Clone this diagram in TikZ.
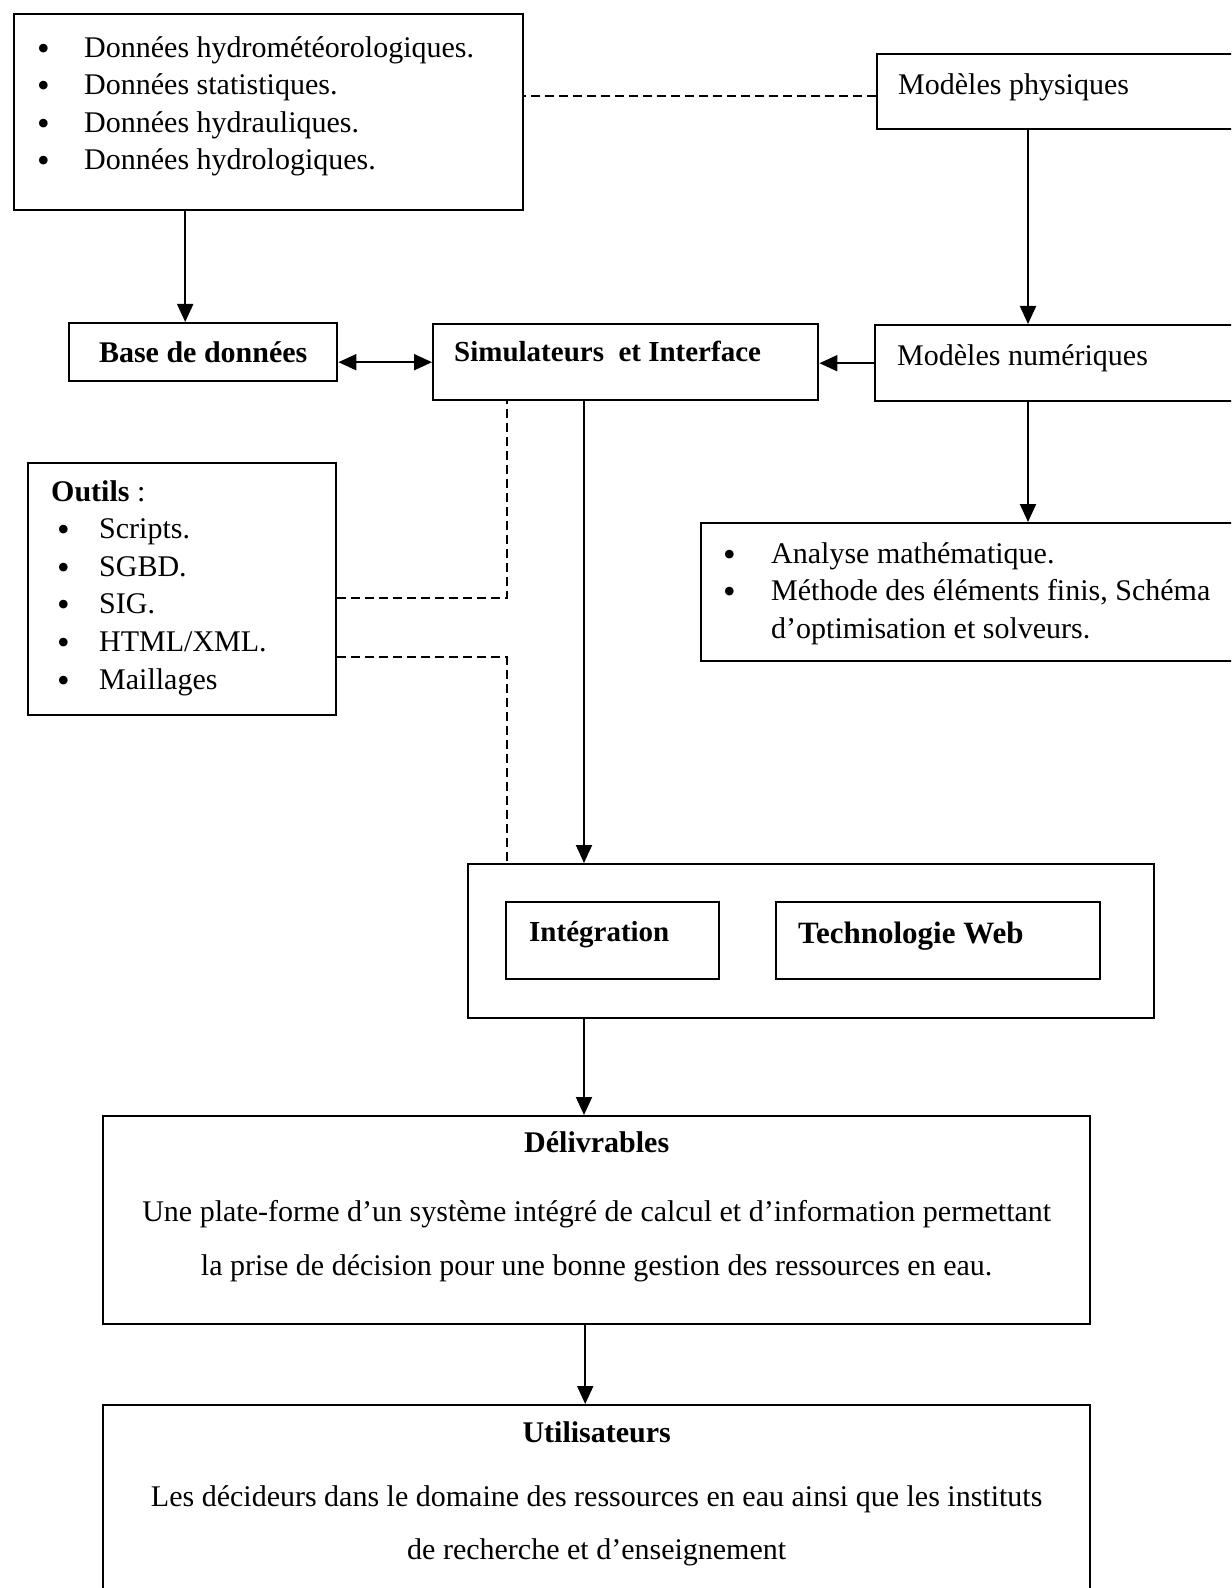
\documentclass[tikz,border=0pt]{standalone}
\usepackage{fontspec}
\usepackage{graphicx}
\setmainfont{Liberation Serif}
\usetikzlibrary{arrows.meta}
\tikzset{blk/.style={draw,line width=1.2pt,anchor=north west,inner sep=0pt,font=\fontsize{15}{18.8}\selectfont},
  fl/.style={line width=1pt,-{Triangle[length=9pt,width=8pt]}},
  dfl/.style={line width=1pt,{Triangle[length=9pt,width=8pt]}-{Triangle[length=9pt,width=8pt]}},
  dsh/.style={line width=1pt,dash pattern=on 4.5pt off 2.5pt}}
\newcommand{\bloc}[6][]{\node[blk,#1] (#3) at (#2) {\parbox[c][#5][t]{#4}{#6}}}
\newcommand{\puce}[1][23.5pt]{\makebox[#1][l]{\raisebox{-1.5pt}{\scalebox{1.2}{\textbullet}}}}

\begin{document}
\begin{tikzpicture}[x=0.5pt,y=-0.5pt]
        \useasboundingbox (0,0) rectangle (1231,1588);
        \clip (0,0) rectangle (1231,1588);
        \bloc{13,13}{donnees}{254.5pt}{98pt}{\leftskip=11.5pt\vspace*{8.3pt}
            \strut\puce Données hydrométéorologiques.\\
            \puce Données statistiques.\\
            \puce Données hydrauliques.\\
            \puce Données hydrologiques.};
        \bloc{876,53}{mphys}{215pt}{37.5pt}{\leftskip=10.5pt\vspace*{6.8pt}\strut Modèles physiques};
        \bloc{68,322}{base}{134pt}{29pt}{\centering\vspace*{6.3pt}\strut\textbf{Base de données}};
        \bloc[font=\fontsize{14.5}{18.8}\selectfont]{432,323}{simul}{192.5pt}{38pt}{\leftskip=10.5pt\vspace*{5.6pt}
            \strut\textbf{Simulateurs~ et Interface}};
        \bloc{874,324}{mnum}{215pt}{38pt}{\leftskip=11pt\vspace*{6.8pt}\strut Modèles numériques};
        \bloc{700,522}{analyse}{300pt}{69pt}{\leftskip=11pt\vspace*{6.8pt}
            \strut\puce[24pt]Analyse mathématique.\\
            \puce[24pt]Méthode des éléments finis, Schéma\\
            \hspace*{24pt}d’optimisation et solveurs.};
        \bloc{27,462}{outils}{154pt}{126pt}{\leftskip=11.5pt\vspace*{5.8pt}
            \strut\textbf{Outils} :\\
            \hspace*{3pt}\puce[21pt]Scripts.\\
            \hspace*{3pt}\puce[21pt]SGBD.\\
            \hspace*{3pt}\puce[21pt]SIG.\\
            \hspace*{3pt}\puce[21pt]HTML/XML.\\
            \hspace*{3pt}\puce[21pt]Maillages};
        \node[blk,minimum width=343pt,minimum height=77pt] (outer) at (467,863) {};
        \bloc[font=\fontsize{14.5}{18.8}\selectfont]{505,901}{integ}{106.5pt}{38.5pt}{\leftskip=11.5pt\vspace*{6.3pt}
            \strut\textbf{Intégration}};
        \bloc[font=\fontsize{15.5}{18.8}\selectfont]{775,901}{web}{162pt}{38.5pt}{\leftskip=11pt\vspace*{7.3pt}
            \strut\textbf{Technologie Web}};
        \bloc{102,1115}{deliv}{493.5pt}{104pt}{\centering\vspace*{4.8pt}
            \strut\textbf{Délivrables}\\[15.7pt]
            Une plate-forme d’un système intégré de calcul et d’information permettant\\[8.2pt]
            la prise de décision pour une bonne gestion des ressources en eau.};
        \bloc{102,1404}{util}{493.5pt}{125pt}{\centering\vspace*{5.3pt}
            \strut\textbf{Utilisateurs}\\[13.2pt]
            Les décideurs dans le domaine des ressources en eau ainsi que les instituts\\[7.7pt]
            de recherche et d’enseignement};
        \draw[dsh] ([yshift=-2.25pt]mphys.west) -- ([yshift=-2.25pt]mphys.west -| donnees.east);
        \draw[fl] ([xshift=-9pt]base.north |- donnees.south) -- ([xshift=-9pt]base.north);
        \draw[fl] ([xshift=76pt]mphys.south west) -- ([xshift=76pt]mphys.south west |- mnum.north);
        \draw[fl] ([xshift=77pt]mnum.south west) -- ([xshift=77pt]mnum.south west |- analyse.north);
        \draw[dfl] (base.east |- simul.west) -- (simul.west);
        \draw[fl] (mnum.west) -- (mnum.west -| simul.east);
        \draw[dsh] ([yshift=-4.5pt]outils.east) -| ([xshift=37.5pt]simul.south west);
        \draw[dsh] ([yshift=-34pt]outils.east) -| ([xshift=20pt]outer.north west);
        \draw[fl] ([xshift=76pt]simul.south west) -- ([xshift=76pt]simul.south west |- outer.north);
        \draw[fl] ([xshift=58.5pt]outer.south west) -- ([xshift=58.5pt]outer.south west |- deliv.north);
        \draw[fl] ([xshift=-5.75pt]deliv.south) -- ([xshift=-5.75pt]util.north);
\end{tikzpicture}
\end{document}
